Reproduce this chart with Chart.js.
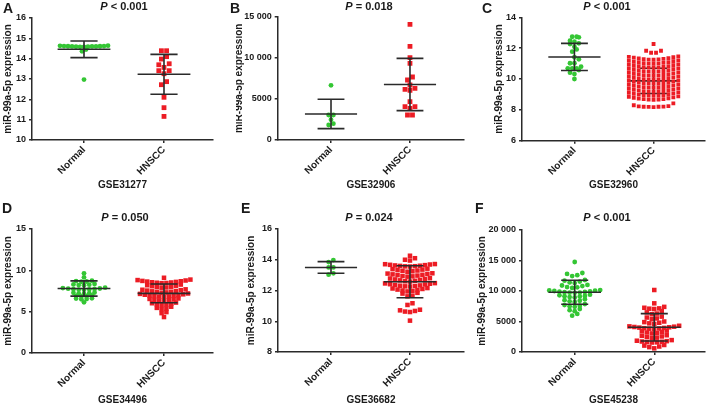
<!DOCTYPE html>
<html>
<head>
<meta charset="utf-8">
<script src="https://cdn.jsdelivr.net/npm/chart.js@4.4.1/dist/chart.umd.min.js"></script>
<style>
  body { margin: 0; width: 709px; height: 404px; overflow: hidden; position: relative; background: #fff; }
  .panel { position: absolute; }
  .txt { position: absolute; font-family: 'Liberation Sans', Arial, sans-serif; font-weight: bold; color: #1a1a1a; white-space: nowrap; transform: translateY(-50%); }
  .ptitle { font-size: 11px; transform: translate(-50%, -50%); }
  .letter { font-size: 14px; }
</style>
</head>
<body>
<script>
const cats = ['Normal', 'HNSCC'];
const letters = ['A', 'B', 'C', 'D', 'E', 'F'];
const pLabels = ['< 0.001', '= 0.018', '< 0.001', '= 0.050', '= 0.024', '< 0.001'];
const gseLabels = ['GSE31277', 'GSE32906', 'GSE32960', 'GSE34496', 'GSE36682', 'GSE45238'];
const yTitle = 'miR-99a-5p expression';

// A - GSE31277
const aNormal = [14.58, 14.58, 14.59, 14.59, 14.6, 14.6, 14.6, 14.61, 14.61, 14.62, 14.62, 14.63, 14.64, 14.45, 14.36, 12.97];
const aHnscc = [14.39, 14.39, 14.10, 13.98, 13.75, 13.70, 13.57, 13.41, 13.41, 13.26, 12.87, 12.72, 12.10, 11.59, 11.16];
const aMean = [14.46, 13.23];
const aSd = [0.41, 0.98];

// B - GSE32906
const bNormal = [6654, 3041, 3041, 2470, 1987, 1825];
const bHnscc = [14075, 11398, 10012, 9330, 7664, 7299, 6691, 6285, 6163, 6042, 4659, 4051, 4051, 3852, 3041, 3041];
const bMean = [3164, 6752];
const bSd = [1786, 3184];

// C - GSE32960
const cNormal = [12.70, 12.74, 12.74, 12.48, 12.42, 12.27, 12.31, 12.09, 11.92, 11.77, 11.41, 11.28,
  11.02, 11.02, 10.80, 10.69, 10.58, 10.69, 10.69, 10.41, 10.32, 10.00];
const cHnscc = [
  12.27, 11.70, 11.70, 11.83, 11.83,
  11.25, 11.26, 11.27, 11.29, 11.30, 11.33, 11.35, 11.38, 11.41, 11.44, 11.47,
  10.99, 11.00, 11.01, 11.03, 11.04, 11.07, 11.09, 11.12, 11.15, 11.18, 11.21,
  10.73, 10.74, 10.75, 10.77, 10.78, 10.81, 10.83, 10.86, 10.89, 10.92, 10.95,
  10.47, 10.48, 10.49, 10.51, 10.52, 10.55, 10.57, 10.60, 10.63, 10.66, 10.69,
  10.21, 10.22, 10.23, 10.25, 10.26, 10.29, 10.31, 10.34, 10.37, 10.40, 10.43,
  9.95, 9.96, 9.97, 9.99, 10.00, 10.03, 10.05, 10.08, 10.11, 10.14, 10.17,
  9.69, 9.70, 9.71, 9.73, 9.74, 9.77, 9.79, 9.82, 9.85, 9.88, 9.91,
  9.43, 9.44, 9.45, 9.47, 9.48, 9.51, 9.53, 9.56, 9.59, 9.62, 9.65,
  9.17, 9.18, 9.19, 9.21, 9.22, 9.25, 9.27, 9.30, 9.33, 9.36, 9.39,
  8.91, 8.92, 8.93, 8.95, 8.96, 8.99, 9.01, 9.04, 9.07, 9.10, 9.13,
  8.65, 8.66, 8.67, 8.69, 8.70, 8.73, 8.75, 8.78, 8.81, 8.84, 8.87,
  8.18, 8.19, 8.20, 8.20, 8.21, 8.22, 8.24, 8.30, 8.42];
const cMean = [11.43, 9.88];
const cSd = [0.88, 0.82];

// D - GSE34496
const dNormal = [9.64, 9.15, 8.62, 8.65, 8.7, 8.75, 8.2, 8.22, 8.26, 8.3, 8.35,
  7.65, 7.67, 7.7, 7.72, 7.75, 7.78, 7.8, 7.85, 7.9, 7.18, 7.2, 7.24, 7.28, 7.32,
  6.85, 6.88, 6.92, 6.98, 6.5, 6.52, 6.58, 6.62, 6.13];
const dHnscc = [9.1,
  8.45, 8.47, 8.5, 8.53, 8.56, 8.6, 8.64, 8.68, 8.72, 8.77, 8.82, 8.88,
  7.9, 7.93, 7.97, 8.02, 8.08, 8.14, 8.2, 8.28,
  7.3, 7.33, 7.37, 7.41, 7.46, 7.5, 7.55, 7.6, 7.65, 7.7,
  6.8, 6.82, 6.85, 6.88, 6.92, 6.96, 7.0, 7.05, 7.1, 7.15, 7.2,
  6.3, 6.34, 6.38, 6.43, 6.48, 6.54, 6.6,
  5.8, 5.85, 5.9, 5.96, 6.02, 6.1,
  5.3, 5.38, 5.46, 5.6, 4.82, 4.95, 4.35];
const dMean = [7.8, 7.21];
const dSd = [0.92, 1.13];

// E - GSE36682
const eNormal = [13.98, 13.85, 13.5, 13.5, 13.12, 13.03];
const eHnscc = [14.26, 13.95, 14.0, 14.1,
  13.56, 13.57, 13.58, 13.6, 13.61, 13.63, 13.65, 13.67, 13.69, 13.71, 13.72,
  13.22, 13.25, 13.28, 13.3, 13.33, 13.36, 13.39, 13.42,
  12.9, 12.92, 12.94, 12.97, 13.0, 13.02, 13.05, 13.08, 13.1, 13.12,
  12.58, 12.6, 12.63, 12.66, 12.69, 12.72, 12.75, 12.78, 12.8,
  12.26, 12.27, 12.29, 12.31, 12.33, 12.36, 12.39, 12.41, 12.44, 12.46, 12.48,
  11.94, 11.97, 12.0, 12.03, 12.06, 12.1, 12.13, 12.16,
  11.62, 11.66, 11.8, 11.85, 11.06, 11.17,
  10.6, 10.63, 10.67, 10.71, 10.75, 10.04];
const eMean = [13.5, 12.57];
const eSd = [0.375, 1.04];

// F - GSE45238
const fNormal = [14754, 12450, 12600, 12800, 12950,
  11300, 11400, 11550, 11700, 11800,
  10500, 10600, 10650, 10800, 10900, 11000,
  9700, 9720, 9750, 9800, 9850, 9900, 9950, 10000, 10050, 10100, 10150,
  8950, 9000, 9100, 9150, 9200, 9300, 9400,
  8200, 8300, 8400, 8500, 8650,
  7400, 7500, 7600, 7700, 7850,
  6700, 6850, 7050, 5950, 6250];
const fHnscc = [10164, 7978, 7050, 7100, 7150, 7250, 7400,
  6200, 6300, 6500, 6700, 5400, 5500, 5650, 5800,
  4600, 4700, 4800, 4900, 5000,
  3800, 3820, 3850, 3900, 3950, 4000, 4050, 4100, 4150, 4200, 4300,
  3050, 3100, 3200, 3300, 3400, 3500,
  2300, 2350, 2450, 2550, 2650, 2750,
  1550, 1580, 1620, 1680, 1720, 1780, 1850, 1950,
  600, 800, 900, 1050, 1150];
const fMean = [9800, 4050];
const fSd = [1970, 2240];

const GREEN = '#34c634';
const RED = '#ec1c24';
const INK = '#2a2a2a';
const FONT = "'Liberation Sans', Arial, sans-serif";

const panels = [
  { left: 0,   top: 0,   w: 236, h: 200, area: [32, 18, 213, 140],     x: [-0.65, 1.6125], y: [10, 16, 1],
    yPad: 2,  xPad: 9, groups: [aNormal, aHnscc], mean: aMean, sd: aSd, bin: [0.2, 0.2], step: [0.05, 0.065], size: [2.4, 3.4], behind: [false, false], p: [124, 6], l: [3, 8] },
  { left: 236, top: 0,   w: 236, h: 200, area: [41.7, 16.7, 228, 140], x: [-0.675, 1.684], y: [0, 15000, 5000],
    yPad: -3, xPad: 9, groups: [bNormal, bHnscc], mean: bMean, sd: bSd, bin: [550, 550], step: [0.06, 0.063], size: [2.4, 3.4], behind: [false, false], p: [369, 6], l: [230, 8] },
  { left: 472, top: 0,   w: 237, h: 200, area: [50, 17.3, 235, 140.7], x: [-0.6625, 1.65], y: [6, 14, 2],
    yPad: 21, xPad: 9, groups: [cNormal, cHnscc], mean: cMean, sd: cSd, bin: [0.3, 0.25], step: [0.056, 0.0625], size: [2.4, 2.7], behind: [false, true], p: [607, 6], l: [482, 8] },
  { left: 0,   top: 200, w: 236, h: 214, area: [32, 29, 213, 153],     x: [-0.65, 1.6125], y: [0, 15, 5],
    yPad: 2,  xPad: 8, groups: [dNormal, dHnscc], mean: dMean, sd: dSd, bin: [0.3, 0.45], step: [0.066, 0.06], size: [2.4, 3.2], behind: [false, false], p: [125, 217], l: [2, 208] },
  { left: 236, top: 200, w: 236, h: 214, area: [42, 29, 228, 152],     x: [-0.671, 1.684], y: [8, 16, 2],
    yPad: 9,  xPad: 8, groups: [eNormal, eHnscc], mean: eMean, sd: eSd, bin: [0.3, 0.3], step: [0.06, 0.063], size: [2.4, 3.2], behind: [false, false], p: [369, 217], l: [241, 208] },
  { left: 472, top: 200, w: 237, h: 214, area: [50, 30, 234, 152],     x: [-0.6625, 1.6375], y: [0, 20000, 5000],
    yPad: 4,  xPad: 8, groups: [fNormal, fHnscc], mean: fMean, sd: fSd, bin: [650, 650], step: [0.064, 0.0625], size: [2.4, 3.2], behind: [false, false], p: [607, 217], l: [475, 208] }
];

// beeswarm rows: values within one bin share a row, spread from the centre outwards
function swarm(values, cx, bin, step) {
  const s = [...values].sort((a, b) => a - b);
  const pts = [];
  let i = 0;
  while (i < s.length) {
    let j = i;
    while (j < s.length && s[j] < s[i] + bin) j++;
    const n = j - i;
    for (let k = 0; k < n; k++) {
      let off;
      if (n % 2) off = k === 0 ? 0 : (k % 2 ? -(k + 1) / 2 : k / 2);
      else off = (k % 2 ? 1 : -1) * (Math.floor(k / 2) + 0.5);
      pts.push({ x: cx + off * step, y: s[i + k] });
    }
    i = j;
  }
  return pts;
}

function fmt(v) {
  return v >= 10000 ? String(v).replace(/(\d)(?=(\d{3})+$)/g, '$1 ') : String(v);
}

function drawBars(chart, o, behind) {
  const { ctx, scales: { x, y } } = chart;
  ctx.save();
  ctx.strokeStyle = INK;
  ctx.lineWidth = 1.6;
  o.mean.forEach((m, i) => {
    if (o.behind[i] !== behind) return;
    const top = y.getPixelForValue(m + o.sd[i]);
    const bot = y.getPixelForValue(m - o.sd[i]);
    const my = y.getPixelForValue(m);
    ctx.beginPath();
    ctx.moveTo(x.getPixelForValue(i - 0.33), my);
    ctx.lineTo(x.getPixelForValue(i + 0.33), my);
    ctx.moveTo(x.getPixelForValue(i - 0.17), top);
    ctx.lineTo(x.getPixelForValue(i + 0.17), top);
    ctx.moveTo(x.getPixelForValue(i - 0.17), bot);
    ctx.lineTo(x.getPixelForValue(i + 0.17), bot);
    ctx.moveTo(x.getPixelForValue(i), top);
    ctx.lineTo(x.getPixelForValue(i), bot);
    ctx.stroke();
  });
  ctx.restore();
}

const errorBars = {
  id: 'errorBars',
  beforeDatasetsDraw(chart, args, opts) { drawBars(chart, opts, true); },
  afterDatasetsDraw(chart, args, opts) { drawBars(chart, opts, false); }
};

Chart.defaults.font.family = FONT;
Chart.defaults.color = '#1a1a1a';

panels.forEach((p, idx) => {
  const box = document.createElement('div');
  box.className = 'panel';
  box.style.left = p.left + 'px';
  box.style.top = p.top + 'px';
  const cv = document.createElement('canvas');
  cv.width = p.w; cv.height = p.h;
  cv.style.width = p.w + 'px'; cv.style.height = p.h + 'px';
  box.appendChild(cv);
  document.body.appendChild(box);

  const [aL, aT, aR, aB] = p.area;
  new Chart(cv, {
    type: 'scatter',
    data: {
      datasets: [
        { data: swarm(p.groups[0], 0, p.bin[0], p.step[0]), backgroundColor: GREEN, pointStyle: 'circle', pointRadius: p.size[0], pointBorderWidth: 0 },
        { data: swarm(p.groups[1], 1, p.bin[1], p.step[1]), backgroundColor: RED, pointStyle: 'rect', pointRadius: p.size[1], pointBorderWidth: 0 }
      ]
    },
    options: {
      responsive: false,
      animation: false,
      events: [],
      layout: { padding: { left: 0, top: aT, right: p.w - aR, bottom: 0 } },
      plugins: {
        legend: { display: false },
        tooltip: { enabled: false },
        errorBars: { mean: p.mean, sd: p.sd, behind: p.behind }
      },
      scales: {
        x: {
          type: 'linear', min: p.x[0], max: p.x[1],
          afterBuildTicks: s => { s.ticks = [{ value: 0 }, { value: 1 }]; },
          afterFit: s => { s.height = p.h - aB; },
          ticks: { autoSkip: false, minRotation: 45, maxRotation: 45, padding: 1, color: '#1a1a1a',
                   font: { size: 10, weight: 'bold' }, callback: v => cats[v] ?? '' },
          grid: { drawOnChartArea: false, drawTicks: true, tickLength: 3, color: INK, lineWidth: 1.5 },
          border: { color: INK, width: 1.5 },
          title: { display: true, text: gseLabels[idx], color: '#1a1a1a', font: { size: 10, weight: 'bold' },
                   padding: { top: 0, bottom: p.xPad } }
        },
        y: {
          min: p.y[0], max: p.y[1],
          afterFit: s => { s.width = aL; },
          ticks: { stepSize: p.y[2], padding: 3, color: '#1a1a1a', font: { size: 9, weight: 'bold' }, callback: v => fmt(v) },
          grid: { drawOnChartArea: false, drawTicks: true, tickLength: 3, color: INK, lineWidth: 1.5 },
          border: { color: INK, width: 1.5 },
          title: { display: true, text: yTitle, color: '#1a1a1a', font: { size: 10, weight: 'bold' },
                   padding: { top: p.yPad, bottom: 0 } }
        }
      }
    },
    plugins: [errorBars]
  });

  const t = document.createElement('div');
  t.className = 'txt ptitle';
  t.style.left = p.p[0] + 'px';
  t.style.top = p.p[1] + 'px';
  t.innerHTML = '<i>P</i> ' + pLabels[idx].replace('<', '&lt;');
  document.body.appendChild(t);

  const l = document.createElement('div');
  l.className = 'txt letter';
  l.style.left = p.l[0] + 'px';
  l.style.top = p.l[1] + 'px';
  l.textContent = letters[idx];
  document.body.appendChild(l);
});
</script>
</body>
</html>
